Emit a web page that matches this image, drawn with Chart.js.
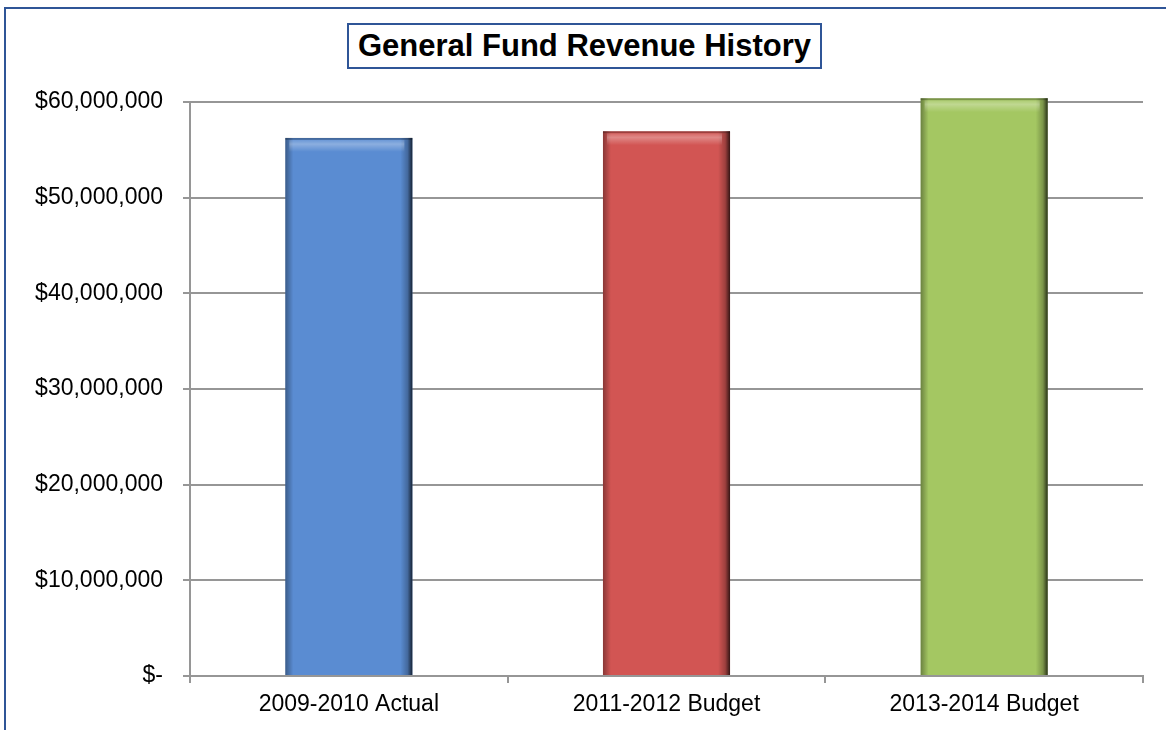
<!DOCTYPE html>
<html>
<head>
<meta charset="utf-8">
<script src="https://cdn.jsdelivr.net/npm/chart.js@4/dist/chart.umd.min.js"></script>
<style>
  html, body { margin: 0; padding: 0; background: #ffffff; overflow: hidden; }
  #wrap { position: relative; width: 1166px; height: 730px; overflow: hidden; background: #fff; }
  #frame { position: absolute; left: 4px; top: 7px; width: 1300px; height: 900px;
           border: 2px solid #2f5597; box-sizing: border-box; }
  #title { position: absolute; left: 347px; top: 23px; width: 475px; height: 46px;
           box-sizing: border-box; border: 2px solid #2f5597; background: #fff;
           font-family: "Liberation Sans", Arial, sans-serif; font-weight: bold; font-size: 31px;
           color: #000; display: flex; align-items: center; justify-content: center; }
  canvas { position: absolute; left: 0; top: 0; }
</style>
</head>
<body>
<div id="wrap">
  <div id="frame"></div>
  <canvas id="c" width="1166" height="730"></canvas>
  <div id="title">General Fund Revenue History</div>
</div>
<script>
// Revenue by fiscal period
const categories = ['2009-2010 Actual', '2011-2012 Budget', '2013-2014 Budget'];
const revenue = [56250000, 56950000, 60400000];
const barColors = ['#5a8cd2', '#d25553', '#a4c762'];
const yTickLabels = ['$-', '$10,000,000', '$20,000,000', '$30,000,000', '$40,000,000', '$50,000,000', '$60,000,000'];

// Bevelled shading drawn over each bar at the positions the bar scale computed
const bevelPlugin = {
  id: 'bevel',
  afterDatasetsDraw(chart) {
    const ctx = chart.ctx;
    const meta = chart.getDatasetMeta(0);
    meta.data.forEach((bar) => {
      const { x, y, base, width } = bar.getProps(['x', 'y', 'base', 'width'], true);
      const l = x - width / 2, r = x + width / 2, h = base - y;
      ctx.save();
      // dark right edge
      let g = ctx.createLinearGradient(r - 12, 0, r, 0);
      g.addColorStop(0, 'rgba(0,0,0,0)');
      g.addColorStop(0.6, 'rgba(0,0,0,0.25)');
      g.addColorStop(1, 'rgba(0,0,0,0.75)');
      ctx.fillStyle = g;
      ctx.fillRect(r - 12, y, 12, h);
      // slightly darker left edge
      g = ctx.createLinearGradient(l, 0, l + 8, 0);
      g.addColorStop(0, 'rgba(0,0,0,0.35)');
      g.addColorStop(1, 'rgba(0,0,0,0)');
      ctx.fillStyle = g;
      ctx.fillRect(l, y, 8, h);
      // top edge and highlight band
      ctx.fillStyle = 'rgba(0,0,0,0.25)';
      ctx.fillRect(l, y, width, 2);
      g = ctx.createLinearGradient(0, y + 2, 0, y + 14);
      g.addColorStop(0, 'rgba(255,255,255,0.10)');
      g.addColorStop(0.35, 'rgba(255,255,255,0.30)');
      g.addColorStop(1, 'rgba(255,255,255,0)');
      ctx.fillStyle = g;
      ctx.fillRect(l + 4, y + 2, width - 12, 12);
      ctx.restore();
    });
  }
};

const tickFont = { family: '"Liberation Sans", Arial, sans-serif', size: 23 };

new Chart(document.getElementById('c'), {
  type: 'bar',
  data: {
    labels: categories,
    datasets: [{
      data: revenue,
      backgroundColor: barColors,
      borderWidth: 0,
      barPercentage: 0.4,
      categoryPercentage: 1.0,
      clip: false
    }]
  },
  options: {
    responsive: false,
    animation: false,
    events: [],
    layout: { padding: { left: 10, right: 23, top: 102, bottom: 0 } },
    plugins: { legend: { display: false }, title: { display: false }, tooltip: { enabled: false } },
    scales: {
      x: {
        afterFit(scale) { scale.height = 730 - 676; },
        grid: { display: true, drawOnChartArea: false, offset: true, tickLength: 7, color: '#969696', lineWidth: 2 },
        border: { display: true, color: '#969696', width: 2 },
        ticks: { color: '#000', font: tickFont, padding: 8 }
      },
      y: {
        min: 0,
        max: 60000000,
        afterFit(scale) { scale.width = 190 - 10; },
        grid: { color: '#969696', lineWidth: 2, tickLength: 7 },
        border: { display: true, color: '#969696', width: 2 },
        ticks: {
          stepSize: 10000000,
          color: '#000',
          font: tickFont,
          padding: 20,
          callback: (v, i) => yTickLabels[i]
        }
      }
    }
  },
  plugins: [bevelPlugin]
});
</script>
</body>
</html>
